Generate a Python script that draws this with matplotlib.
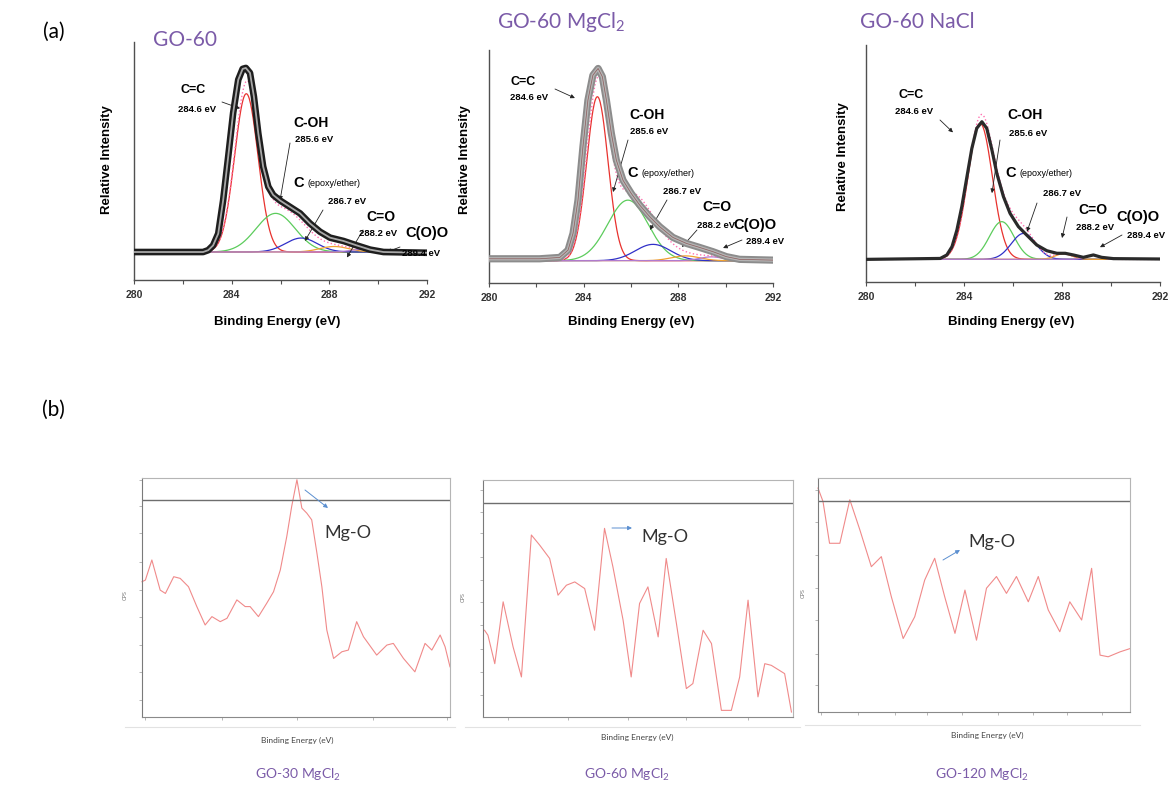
import numpy as np
import matplotlib
matplotlib.use("Agg")
import matplotlib.pyplot as plt
from matplotlib.lines import Line2D

W, H = 1175, 787
fig = plt.figure(figsize=(W / 100, H / 100), dpi=100)

ARIAL = "Liberation Sans"
CALIBRI = "Lato"
PURPLE = "#7b5ba8"

# ---------------- (a) C1s spectra: measured envelopes ----------------
a1_energy = [280.0, 282.83, 283.04, 283.24, 283.45, 283.65, 283.86, 284.06, 284.27, 284.45,
             284.58, 284.75, 284.91, 285.09, 285.29, 285.50, 285.70, 285.98, 286.39, 286.80,
             287.21, 287.62, 288.03, 288.58, 289.12, 289.67, 290.22, 292.0]
a1_intensity = [0.0, 0.0, 0.01, 0.036, 0.10, 0.28, 0.52, 0.755, 0.936, 0.995,
                1.0, 0.973, 0.845, 0.645, 0.464, 0.355, 0.31, 0.28, 0.245, 0.21,
                0.155, 0.11, 0.078, 0.06, 0.036, 0.013, 0.0, -0.004]

a2_energy = [280.0, 282.14, 282.99, 283.34, 283.55, 283.76, 283.97, 284.18, 284.39, 284.61,
             284.79, 284.96, 285.17, 285.38, 285.66, 286.01, 286.37, 286.79, 287.21, 287.77,
             288.34, 288.90, 289.46, 290.03, 290.59, 292.0]
a2_intensity = [0.01, 0.01, 0.017, 0.055, 0.142, 0.315, 0.593, 0.835, 0.965, 1.0,
                0.957, 0.835, 0.662, 0.523, 0.419, 0.35, 0.289, 0.229, 0.177, 0.121,
                0.09, 0.069, 0.047, 0.021, 0.007, 0.003]

a3_energy = [280.0, 283.03, 283.30, 283.51, 283.71, 283.91, 284.12, 284.32, 284.52, 284.73,
             284.93, 285.14, 285.34, 285.61, 285.88, 286.22, 286.56, 286.97, 287.38, 287.79,
             288.13, 288.46, 288.87, 289.28, 289.62, 290.10, 292.0]
a3_intensity = [0.0, 0.005, 0.024, 0.069, 0.159, 0.286, 0.449, 0.603, 0.712, 0.748,
                0.712, 0.594, 0.467, 0.341, 0.25, 0.178, 0.132, 0.078, 0.047, 0.033,
                0.033, 0.024, 0.011, 0.024, 0.011, 0.004, 0.002]

# fitted components: C=C, C-OH, C(epoxy/ether), C=O, C(O)O
a1_center = [284.6, 285.8, 286.85, 288.2, 289.4]
a1_height = [0.86, 0.21, 0.076, 0.03, 0.015]
a1_sigma = [0.48, 0.8, 0.65, 0.6, 0.5]

a2_center = [284.58, 285.87, 286.93, 288.3, 289.4]
a2_height = [0.853, 0.315, 0.085, 0.025, 0.02]
a2_sigma = [0.45, 0.85, 0.75, 0.6, 0.5]

a3_center = [284.66, 285.54, 286.43, 288.06, 289.28]
a3_height = [0.739, 0.205, 0.141, 0.03, 0.022]
a3_sigma = [0.5, 0.5, 0.5, 0.35, 0.3]

comp_colors = ["#e8322e", "#5ccc5c", "#3030c8", "#f0a030", "#b07ad0"]

# ---------------- (b) Mg 2p spectra (positions in % of plot frame) ----------------
b1_x = [0, 1.1, 3.2, 5.9, 7.6, 10.3, 12.4, 15.1, 17.8, 20.5, 22.7, 25.4, 27.6, 30.8, 33.5,
        35.1, 37.8, 40.5, 42.7, 44.9, 47.0, 48.6, 50.3, 51.9, 53.5, 55.1, 56.8, 58.4, 60.0,
        62.2, 64.9, 67.0, 69.7, 71.9, 76.2, 79.5, 81.6, 84.9, 88.6, 91.9, 94.1, 96.8, 98.4, 100]
b1_cps = [56.6, 57.3, 65.7, 53.1, 51.7, 58.7, 58.0, 54.5, 46.2, 38.5, 42.0, 39.9, 41.3, 49.0,
          46.2, 46.2, 42.0, 47.6, 52.4, 61.5, 75.5, 88.1, 99.3, 87.4, 85.3, 82.5, 68.5, 54.5,
          36.4, 24.5, 27.3, 28.0, 39.9, 33.6, 25.9, 30.1, 30.8, 24.5, 18.9, 30.8, 28.0, 34.3,
          29.4, 21.0]

b2_x = [0.5, 1.6, 3.8, 6.5, 9.7, 12.4, 15.6, 18.3, 21.5, 24.2, 26.9, 29.6, 32.8, 36.0, 39.2,
        41.9, 45.2, 47.8, 50.5, 53.2, 56.5, 59.1, 62.4, 65.6, 67.7, 71.0, 73.7, 76.9, 80.1,
        82.8, 85.5, 88.7, 90.9, 93.0, 97.3, 99.5]
b2_cps = [36.6, 34.5, 22.5, 48.6, 29.6, 16.9, 76.8, 72.5, 66.9, 51.4, 55.6, 57.0, 54.2, 36.6,
          79.6, 63.4, 40.8, 16.9, 47.9, 54.9, 33.8, 66.9, 39.4, 12.0, 14.1, 36.6, 31.0, 2.8,
          2.8, 16.9, 49.3, 8.5, 22.5, 21.8, 18.3, 2.1]

b3_x = [0, 1.6, 3.7, 7.0, 10.2, 13.4, 17.1, 20.3, 23.5, 27.3, 31.0, 34.2, 37.4, 40.6, 43.9,
        47.1, 50.8, 54.0, 57.2, 60.4, 63.6, 67.4, 70.6, 73.8, 77.5, 80.7, 84.5, 87.7, 90.4,
        93.0, 96.8, 100]
b3_cps = [95.7, 90.0, 72.1, 72.1, 90.7, 77.9, 62.1, 66.4, 49.3, 31.4, 40.7, 56.4, 65.7, 49.3,
          33.6, 52.1, 30.7, 52.9, 57.9, 50.7, 57.9, 47.1, 57.9, 43.6, 34.3, 47.1, 39.3, 61.4,
          24.3, 23.6, 25.7, 27.1]


def px_rect(x0, y0, x1, y1):
    return [x0 / W, 1 - y1 / H, (x1 - x0) / W, (y1 - y0) / H]


def ftext(x, y, s, size, family=ARIAL, weight="bold", color="black", ha="center", **kw):
    fig.text(x / W, 1 - y / H, s, fontsize=size, family=family, weight=weight,
             color=color, ha=ha, va="center", **kw)


def arrow(ax, tail, head, color="#222222"):
    ax.annotate("", xy=head, xycoords="data", xytext=(tail[0], H - tail[1]),
                textcoords="figure pixels",
                arrowprops=dict(arrowstyle="-|>", color=color, lw=0.6,
                                mutation_scale=6, shrinkA=0, shrinkB=0))


def gaussian(x, c, h, s):
    return h * np.exp(-(x - c) ** 2 / (2 * s ** 2))


grid = np.linspace(280, 292, 481)

top_panels = [
    dict(rect=(134, 42, 427, 280), ylim=(-0.152, 1.141), e=a1_energy, i=a1_intensity,
         c=a1_center, h=a1_height, s=a1_sigma, style="circles"),
    dict(rect=(489, 50, 773, 283), ylim=(-0.116, 1.096), e=a2_energy, i=a2_intensity,
         c=a2_center, h=a2_height, s=a2_sigma, style="grey"),
    dict(rect=(866, 45, 1160, 282), ylim=(-0.123, 1.165), e=a3_energy, i=a3_intensity,
         c=a3_center, h=a3_height, s=a3_sigma, style="line"),
]

top_axes = []
for p in top_panels:
    ax = fig.add_axes(px_rect(*p["rect"]))
    total = np.zeros_like(grid)
    for c, h, s, col in zip(p["c"], p["h"], p["s"], comp_colors):
        comp = gaussian(grid, c, h, s)
        total += comp
        ax.plot(grid, comp, color=col, lw=0.9, zorder=2)
    ax.plot(grid, total, color="#ff70b0", lw=1.0, ls=":", zorder=3)
    if p["style"] == "circles":
        ax.plot(p["e"], p["i"], color="#1e1e1e", lw=4.8, solid_joinstyle="round",
                solid_capstyle="round", zorder=4)
        ax.plot(p["e"], p["i"], color="#a8a8a8", lw=1.3, solid_joinstyle="round", zorder=5)
    elif p["style"] == "grey":
        ax.plot(p["e"], p["i"], color="#8c8c8c", lw=5.2, solid_joinstyle="round",
                solid_capstyle="round", zorder=4)
        ax.plot(p["e"], p["i"], color="#b4b4b4", lw=2.4, solid_joinstyle="round", zorder=5)
        ax.plot(p["e"], p["i"], color="#8c5a5a", lw=0.5, zorder=6)
    else:
        ax.plot(p["e"], p["i"], color="#2a2a2a", lw=2.3, solid_joinstyle="round", zorder=4)
    ax.set_xlim(280, 292)
    ax.set_ylim(*p["ylim"])
    ax.set_xticks([280, 284, 288, 292])
    ax.set_xticks([282, 286, 290], minor=True)
    ax.set_yticks([])
    ax.tick_params(axis="x", which="both", direction="out", length=3, width=0.8,
                   color="#505050", pad=4)
    for lab in ax.get_xticklabels():
        lab.set_fontfamily(ARIAL)
        lab.set_fontweight("bold")
        lab.set_fontsize(7.5)
        lab.set_color("#333333")
    for side in ("top", "right"):
        ax.spines[side].set_visible(False)
    for side in ("left", "bottom"):
        ax.spines[side].set_color("#505050")
        ax.spines[side].set_linewidth(1.0)
    ax.patch.set_alpha(0)
    top_axes.append(ax)

# axis labels
for x_lab, y_rel in [(107, 160), (465, 160), (843, 157)]:
    ftext(x_lab, y_rel, "Relative Intensity", 9.5, rotation=90)
for x_b in (277, 631, 1011):
    ftext(x_b, 322, "Binding Energy (eV)", 9.5)

# panel titles
ftext(153, 40, "GO-60", 15, family=CALIBRI, weight="normal", color=PURPLE, ha="left")
ftext(497, 22, r"GO-60 MgCl$_\mathregular{2}$", 15, family=CALIBRI, weight="normal",
      color=PURPLE, ha="left")
ftext(860, 22, "GO-60 NaCl", 15, family=CALIBRI, weight="normal", color=PURPLE, ha="left")

ftext(65, 32, "(a)", 15, family=CALIBRI, weight="normal", ha="right")
ftext(65, 410, "(b)", 15, family=CALIBRI, weight="normal", ha="right")

# peak annotations: text positions (pixels) and arrow heads (data)
peak_notes = [
    dict(cc=(193, 90), cc_v=(197, 110), oh=(311, 123), oh_v=(314, 140), ep=(293, 183),
         ep_v=(347, 202), co=(381, 217), co_v=(378, 233), coo=(405, 233), coo_v=(421, 254),
         arrows=[((222, 102), (284.34, 0.78)), ((290, 143), (285.98, 0.28)),
                 ((323, 210), (287.0, 0.06)), ((363, 230), (288.72, -0.03)),
                 ((400, 247), (290.36, 0.0))]),
    dict(cc=(523, 82), cc_v=(529, 97), oh=(647, 115), oh_v=(649, 132), ep=(627, 173),
         ep_v=(682, 192), co=(717, 207), co_v=(716, 225), coo=(733, 225), coo_v=(765, 242),
         arrows=[((555, 89), (283.63, 0.846)), ((628, 140), (285.24, 0.357)),
                 ((667, 200), (286.8, 0.16)), ((697, 230), (288.15, 0.071)),
                 ((742, 240), (289.89, 0.066))]),
    dict(cc=(911, 95), cc_v=(914, 112), oh=(1025, 115), oh_v=(1028, 133), ep=(1005, 173),
         ep_v=(1062, 193), co=(1093, 210), co_v=(1095, 228), coo=(1116, 217), coo_v=(1146, 235),
         arrows=[((940, 120), (283.55, 0.69)), ((1000, 140), (285.14, 0.36)),
                 ((1037, 203), (286.57, 0.15)), ((1067, 217), (288.0, 0.116)),
                 ((1122, 235), (289.55, 0.066))]),
]

for ax, n in zip(top_axes, peak_notes):
    ftext(*n["cc"], "C=C", 9)
    ftext(*n["cc_v"], "284.6 eV", 6.8)
    ftext(*n["oh"], "C-OH", 10)
    ftext(*n["oh_v"], "285.6 eV", 6.8)
    ftext(n["ep"][0], n["ep"][1], "C", 10.5, ha="left")
    ftext(n["ep"][0] + 14, n["ep"][1] + 1, "(epoxy/ether)", 6.5, weight="normal", ha="left")
    ftext(*n["ep_v"], "286.7 eV", 6.8)
    ftext(*n["co"], "C=O", 10)
    ftext(*n["co_v"], "288.2 eV", 6.8)
    ftext(n["coo"][0], n["coo"][1], "C(O)O", 10.5, ha="left")
    ftext(*n["coo_v"], "289.4 eV", 6.8)
    for tail, head in n["arrows"]:
        arrow(ax, tail, head)

# ---------------- (b) ----------------
bottom_panels = [
    dict(rect=(142, 478, 450, 717), x=b1_x, y=b1_cps, hline=90.9,
         xt=[1.1, 26, 50.3, 75, 98.9],
         yt=[99.3, 88.1, 76.9, 65, 53.1, 41.9, 30.1, 18.9, 7.0],
         mg=(348, 533), mg_tail=(305, 490), mg_head=(328, 508),
         be=(297, 740), cps=(125, 595), title=(298, 775), name="GO-30", under=(125, 455, 727)),
    dict(rect=(483, 480, 793, 717), x=b2_x, y=b2_cps, hline=90.1,
         xt=[8.1, 27.4, 46.8, 65.6, 85.5],
         yt=[95.8, 86.6, 77.5, 67.6, 57.7, 48.6, 38.7, 28.9, 19.0, 9.2],
         mg=(665, 537), mg_tail=(612, 528), mg_head=(632, 528),
         be=(637, 737), cps=(463, 597), title=(627, 775), name="GO-60", under=(465, 800, 727)),
    dict(rect=(818, 478, 1130, 712), x=b3_x, y=b3_cps, hline=90.0,
         xt=[1.1, 12.8, 24.6, 34.8, 46.0, 57.8, 69.0, 79.7, 90.9],
         yt=[95.0, 81.4, 67.1, 52.9, 39.3, 25.0, 11.4],
         mg=(992, 542), mg_tail=(943, 560), mg_head=(960, 550),
         be=(987, 735), cps=(803, 593), title=(982, 775), name="GO-120", under=(805, 1140, 725)),
]

for p in bottom_panels:
    ax = fig.add_axes(px_rect(*p["rect"]))
    ax.plot(p["x"], p["y"], color="#f08a8a", lw=0.8, clip_on=False)
    ax.axhline(p["hline"], color="#6e6e6e", lw=1.0)
    ax.set_xlim(0, 100)
    ax.set_ylim(0, 100)
    ax.set_xticks(p["xt"])
    ax.set_yticks(p["yt"])
    ax.set_xticklabels([])
    ax.set_yticklabels([])
    ax.tick_params(direction="out", length=2, width=0.5, color="#9a9a9a")
    for side in ax.spines:
        ax.spines[side].set_color("#b5b5b5")
        ax.spines[side].set_linewidth(0.8)
    ax.spines["left"].set_color("#7a7a7a")
    ax.spines["bottom"].set_color("#8a8a8a")
    x0, x1 = p["rect"][0], p["rect"][2]
    hx = (p["mg_head"][0] - x0) / (x1 - x0) * 100
    hy = (p["rect"][3] - p["mg_head"][1]) / (p["rect"][3] - p["rect"][1]) * 100
    ax.annotate("", xy=(hx, hy), xytext=(p["mg_tail"][0], H - p["mg_tail"][1]),
                textcoords="figure pixels",
                arrowprops=dict(arrowstyle="-|>", color="#5b8fd0", lw=0.7,
                                mutation_scale=6, shrinkA=0, shrinkB=0))
    ftext(*p["mg"], "Mg-O", 13, family=CALIBRI, weight="normal", color="#333333")
    ftext(*p["be"], "Binding Energy (eV)", 6, family=CALIBRI, weight="normal", color="#444444")
    ftext(*p["cps"], "CPS", 4, family=CALIBRI, weight="normal", color="#777777", rotation=90)
    ftext(*p["title"], p["name"] + r" MgCl$_\mathregular{2}$", 10, family=CALIBRI,
          weight="normal", color=PURPLE)
    ux0, ux1, uy = p["under"]
    fig.add_artist(Line2D([ux0 / W, ux1 / W], [1 - uy / H, 1 - uy / H],
                          color="#e2e2e2", lw=0.8))

fig.savefig("out.png", dpi=100)
